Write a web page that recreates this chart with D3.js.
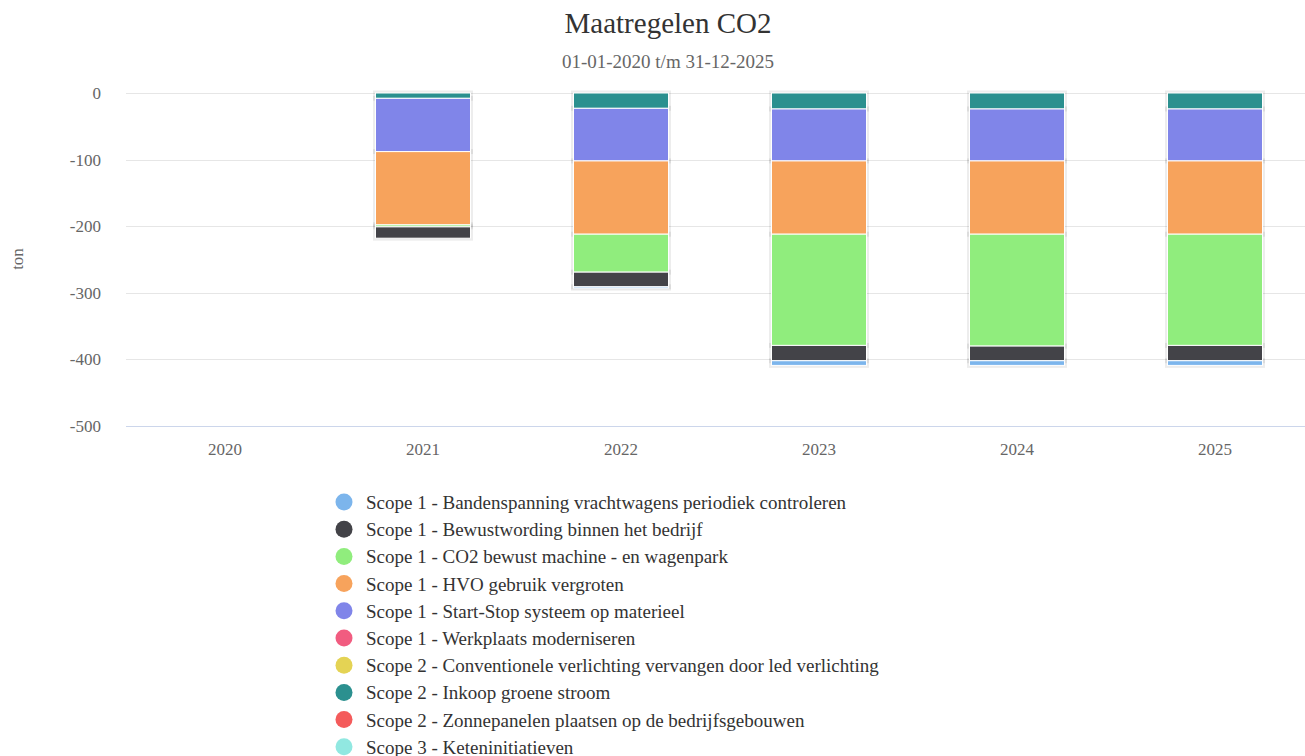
<!DOCTYPE html>
<html>
<head>
<meta charset="utf-8">
<script src="https://cdn.jsdelivr.net/npm/d3@7"></script>
<style>
  body { margin: 0; background: #fff; }
  svg, svg text { font-family: "Liberation Serif", "DejaVu Serif", serif; }
</style>
</head>
<body>
<div id="viz-container"></div>
<script>
// categories and series (tonnes, negative = reduction)
var years = ["2020", "2021", "2022", "2023", "2024", "2025"];
var seriesNames = [
  "Scope 1 - Bandenspanning vrachtwagens periodiek controleren",
  "Scope 1 - Bewustwording binnen het bedrijf",
  "Scope 1 - CO2 bewust machine - en wagenpark",
  "Scope 1 - HVO gebruik vergroten",
  "Scope 1 - Start-Stop systeem op materieel",
  "Scope 1 - Werkplaats moderniseren",
  "Scope 2 - Conventionele verlichting vervangen door led verlichting",
  "Scope 2 - Inkoop groene stroom",
  "Scope 2 - Zonnepanelen plaatsen op de bedrijfsgebouwen",
  "Scope 3 - Keteninitiatieven"
];
var seriesColors = ["#7cb5ec", "#434348", "#90ed7d", "#f7a35c", "#8085e9",
  "#f15c80", "#e4d354", "#2b908f", "#f45b5b", "#91e8e1"];

var bandenspanning = [0, 0, -2, -7, -7, -7];
var bewustwording = [0, -17, -22, -23, -22, -23];
var co2Bewust = [0, -3, -57, -167, -168, -167];
var hvo = [0, -110, -110, -110, -110, -110];
var startStop = [0, -80, -79, -78, -78, -78];
var werkplaats = [0, 0, 0, 0, 0, 0];
var ledVerlichting = [0, 0, 0, 0, 0, 0];
var groeneStroom = [0, -8, -23, -24, -24, -24];
var zonnepanelen = [0, 0, 0, 0, 0, 0];
var keten = [0, 0, 0, 0, 0, 0];

var yTicks = [0, -100, -200, -300, -400, -500];

var allValues = [bandenspanning, bewustwording, co2Bewust, hvo, startStop,
  werkplaats, ledVerlichting, groeneStroom, zonnepanelen, keten];

var width = 1305, height = 756;
var font = '"Liberation Serif", "DejaVu Serif", serif';

var svg = d3.select('#viz-container')
  .append('svg')
  .attr("width", width)
  .attr("height", height)
  .attr("font-family", font)

// title
svg.append('text')
  .text("Maatregelen CO2")
  .attr("x", 668)
  .attr("y", 33)
  .attr("text-anchor", "middle")
  .style("font-size", "29px")
  .style("fill", "#333")

svg.append('text')
  .text("01-01-2020 t/m 31-12-2025")
  .attr("x", 668)
  .attr("y", 68)
  .attr("text-anchor", "middle")
  .style("font-size", "19px")
  .style("fill", "#666")

var x = d3.scaleBand()
  .domain(years)
  .range([126, 1314])

var y = d3.scaleLinear()
  .domain([0, -500])
  .range([93, 426])

// gridlines
svg.append('g')
  .selectAll("line")
  .data(yTicks)
  .enter()
  .append("line")
  .attr("x1", 126)
  .attr("x2", width)
  .attr("y1", function (d) { return Math.round(y(d)) + 0.5 })
  .attr("y2", function (d) { return Math.round(y(d)) + 0.5 })
  .style("stroke", function (d) { return d == -500 ? "#ccd6eb" : "#e6e6e6" })

// y labels
svg.append('g')
  .selectAll("text")
  .data(yTicks)
  .enter()
  .append("text")
  .text(function (d) { return d })
  .attr("x", 101)
  .attr("y", function (d) { return y(d) + 6 })
  .attr("text-anchor", "end")
  .style("font-size", "17px")
  .style("fill", "#666")

svg.append('text')
  .text("ton")
  .attr("transform", "translate(23, 259) rotate(-90)")
  .attr("text-anchor", "middle")
  .style("font-size", "17px")
  .style("fill", "#666")

// x labels
svg.append('g')
  .selectAll("text")
  .data(years)
  .enter()
  .append("text")
  .text(function (d) { return d })
  .attr("x", function (d) { return x(d) + x.bandwidth() / 2 })
  .attr("y", 455)
  .attr("text-anchor", "middle")
  .style("font-size", "17px")
  .style("fill", "#666")

// stacking: last series sits nearest zero
var order = d3.range(seriesNames.length).reverse();
var segments = [];
years.forEach(function (yr, i) {
  var base = 0;
  order.forEach(function (s) {
    var v = allValues[s][i];
    if (v != 0) {
      segments.push({ year: yr, s: s, y0: base, y1: base + v });
    }
    base += v;
  });
});

var barW = 95;
var chart = svg.append('g').attr("id", "chart")

// shadow
chart.selectAll("rect.shadow")
  .data(segments)
  .enter()
  .append("rect")
  .attr("class", "shadow")
  .attr("x", function (d) { return x(d.year) + x.bandwidth() / 2 - barW / 2 })
  .attr("y", function (d) { return y(d.y0) })
  .attr("width", barW)
  .attr("height", function (d) { return y(d.y1) - y(d.y0) })
  .style("fill", "none")
  .style("stroke", "#000")
  .style("stroke-opacity", 0.07)
  .style("stroke-width", 5)

chart.selectAll("rect.bar")
  .data(segments)
  .enter()
  .append("rect")
  .attr("class", "bar")
  .attr("x", function (d) { return x(d.year) + x.bandwidth() / 2 - barW / 2 })
  .attr("y", function (d) { return y(d.y0) })
  .attr("width", barW)
  .attr("height", function (d) { return y(d.y1) - y(d.y0) })
  .style("fill", function (d) { return seriesColors[d.s] })
  .style("stroke", "#fff")
  .style("stroke-width", 1)

// legend
var legend = svg.append('g')
  .selectAll("g")
  .data(seriesNames)
  .enter()
  .append("g")
  .attr("transform", function (d, i) {
    return "translate(344, " + (502 + i * 27.2) + ")"
  })

legend.append("circle")
  .attr("r", 8.5)
  .style("fill", function (d, i) { return seriesColors[i] })

legend.append("text")
  .text(function (d) { return d })
  .attr("x", 22)
  .attr("y", 7)
  .style("font-size", "19px")
  .style("fill", "#333")
</script>
</body>
</html>
